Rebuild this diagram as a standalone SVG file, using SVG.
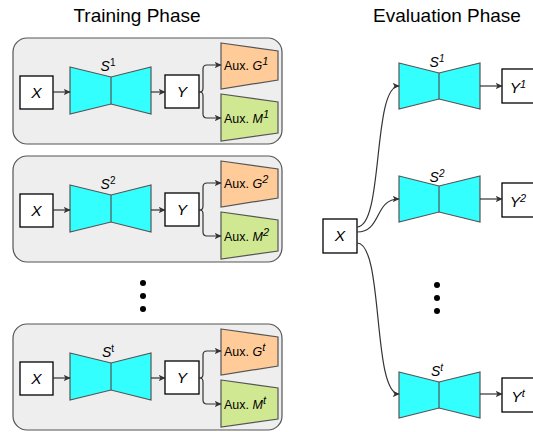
<svg xmlns="http://www.w3.org/2000/svg" width="533" height="432" viewBox="0 0 533 432">
<style>
text{font-family:"Liberation Sans",Arial,sans-serif;fill:#000}
.title{font-size:19px;text-anchor:middle}
.panel{fill:#eeeeee;stroke:#555;stroke-width:1.2}
.box{fill:#fff;stroke:#000;stroke-width:1.3}
.bow{fill:#33ffff;stroke:#555;stroke-width:1.2}
.gshape{fill:#ffcc99;stroke:#555;stroke-width:1.2}
.mshape{fill:#d1e892;stroke:#555;stroke-width:1.2}
.lbl{font-size:15.5px;font-style:italic;text-anchor:middle}
.slbl{font-size:14px;font-style:italic;text-anchor:middle}
.aux{font-size:12.5px}
.sup{font-size:11px}
.ssup{font-size:10px}
.edge{fill:none;stroke:#333;stroke-width:1.2;marker-end:url(#arr)}
.dot{fill:#000}
</style>
<defs>
<marker id="arr" viewBox="0 0 10 10" refX="9" refY="5" markerWidth="7" markerHeight="7" markerUnits="userSpaceOnUse" orient="auto">
<path d="M0,0.5 L10,5 L0,9.5 L2.5,5 Z" fill="#333"/>
</marker>
<g id="bowL">
<path class="bow" d="M70,67 L111,77 L151,67 L151,114 L111,104 L70,114 Z"/>
<line x1="111" y1="77" x2="111" y2="104" stroke="#555" stroke-width="1.2"/>
</g>
</defs>

<text class="title" x="137" y="22">Training Phase</text>
<text class="title" x="447" y="22">Evaluation Phase</text>

<!-- Training panel 1 -->
<g id="panel1">
<rect class="panel" x="13" y="38" width="269" height="106" rx="14"/>
<g id="p1-x"><rect class="box" x="20" y="76" width="33" height="33"/><text class="lbl" x="36.5" y="98">X</text></g>
<g id="p1-s"><use href="#bowL"/><text class="slbl" x="108" y="71">S<tspan class="ssup" dy="-5" font-style="normal">1</tspan></text></g>
<g id="p1-y"><rect class="box" x="165" y="75" width="34" height="33"/><text class="lbl" x="182" y="97">Y</text></g>
<g id="p1-g"><path class="gshape" d="M221,43 L278,51 L278,80 L221,89 Z"/><text class="aux" x="224" y="70">Aux. <tspan font-style="italic">G</tspan><tspan class="sup" font-style="italic" dy="-5">1</tspan></text></g>
<g id="p1-m"><path class="mshape" d="M221,94 L278,102 L278,133 L221,141 Z"/><text class="aux" x="224" y="123">Aux. <tspan font-style="italic">M</tspan><tspan class="sup" font-style="italic" dy="-5">1</tspan></text></g>
</g>

<!-- Training panel 2 -->
<g id="panel2" transform="translate(0,118)">
<rect class="panel" x="13" y="38" width="269" height="106" rx="14"/>
<g id="p2-x"><rect class="box" x="20" y="76" width="33" height="33"/><text class="lbl" x="36.5" y="98">X</text></g>
<g id="p2-s"><use href="#bowL"/><text class="slbl" x="108" y="71">S<tspan class="ssup" dy="-5" font-style="normal">2</tspan></text></g>
<g id="p2-y"><rect class="box" x="165" y="75" width="34" height="33"/><text class="lbl" x="182" y="97">Y</text></g>
<g id="p2-g"><path class="gshape" d="M221,43 L278,51 L278,80 L221,89 Z"/><text class="aux" x="224" y="70">Aux. <tspan font-style="italic">G</tspan><tspan class="sup" font-style="italic" dy="-5">2</tspan></text></g>
<g id="p2-m"><path class="mshape" d="M221,94 L278,102 L278,133 L221,141 Z"/><text class="aux" x="224" y="123">Aux. <tspan font-style="italic">M</tspan><tspan class="sup" font-style="italic" dy="-5">2</tspan></text></g>
</g>

<!-- Training panel t -->
<g id="panel3" transform="translate(0,286)">
<rect class="panel" x="13" y="38" width="269" height="106" rx="14"/>
<g id="p3-x"><rect class="box" x="20" y="76" width="33" height="33"/><text class="lbl" x="36.5" y="98">X</text></g>
<g id="p3-s"><use href="#bowL"/><text class="slbl" x="108" y="71">S<tspan class="ssup" dy="-5" font-style="normal">t</tspan></text></g>
<g id="p3-y"><rect class="box" x="165" y="75" width="34" height="33"/><text class="lbl" x="182" y="97">Y</text></g>
<g id="p3-g"><path class="gshape" d="M221,43 L278,51 L278,80 L221,89 Z"/><text class="aux" x="224" y="70">Aux. <tspan font-style="italic">G</tspan><tspan class="sup" font-style="italic" dy="-5">t</tspan></text></g>
<g id="p3-m"><path class="mshape" d="M221,94 L278,102 L278,133 L221,141 Z"/><text class="aux" x="224" y="123">Aux. <tspan font-style="italic">M</tspan><tspan class="sup" font-style="italic" dy="-5">t</tspan></text></g>
</g>

<!-- ellipsis dots -->
<g id="dots-left"><circle class="dot" cx="143" cy="283" r="3"/><circle class="dot" cx="143" cy="296" r="3"/><circle class="dot" cx="143" cy="309" r="3"/></g>
<g id="dots-right"><circle class="dot" cx="437" cy="285" r="3"/><circle class="dot" cx="437" cy="298" r="3"/><circle class="dot" cx="437" cy="311" r="3"/></g>

<!-- Evaluation nodes -->
<g id="e-x"><rect class="box" x="323" y="219" width="34" height="34"/><text class="lbl" x="340" y="241">X</text></g>
<g id="e-s1"><path class="bow" d="M399,63 L439,73 L480,63 L480,109 L439,99 L399,109 Z"/><line x1="439" y1="73" x2="439" y2="99" stroke="#555" stroke-width="1.2"/><text class="slbl" x="437" y="67">S<tspan class="ssup" dy="-5">1</tspan></text></g>
<g id="e-s2"><path class="bow" d="M399,176 L439,186 L480,176 L480,222 L439,212 L399,222 Z"/><line x1="439" y1="186" x2="439" y2="212" stroke="#555" stroke-width="1.2"/><text class="slbl" x="437" y="182">S<tspan class="ssup" dy="-5">2</tspan></text></g>
<g id="e-st"><path class="bow" d="M399,372 L439,382 L480,372 L480,418 L439,408 L399,418 Z"/><line x1="439" y1="382" x2="439" y2="408" stroke="#555" stroke-width="1.2"/><text class="slbl" x="437" y="376">S<tspan class="ssup" dy="-5">t</tspan></text></g>
<g id="e-y1"><rect class="box" x="502" y="69" width="34" height="34"/><text class="lbl" x="518" y="93">Y<tspan class="sup" dy="-5">1</tspan></text></g>
<g id="e-y2"><rect class="box" x="502" y="183" width="34" height="34"/><text class="lbl" x="518" y="207">Y<tspan class="sup" dy="-5">2</tspan></text></g>
<g id="e-yt"><rect class="box" x="502" y="378" width="34" height="34"/><text class="lbl" x="518" y="402">Y<tspan class="sup" dy="-5">t</tspan></text></g>

<!-- connectors -->
<g id="connectors">
<path class="edge" d="M53,92 L70,92"/>
<path class="edge" d="M151,92 L165,92"/>
<path class="edge" d="M199,92 L200,92 Q203,92 203,88 L203,69 Q203,65 207,65 L221,65"/>
<path class="edge" d="M199,92 L200,92 Q203,92 203,96 L203,114 Q203,118 207,118 L221,118"/>
<path class="edge" d="M53,210 L70,210"/>
<path class="edge" d="M151,210 L165,210"/>
<path class="edge" d="M199,210 L200,210 Q203,210 203,206 L203,187 Q203,183 207,183 L221,183"/>
<path class="edge" d="M199,210 L200,210 Q203,210 203,214 L203,232 Q203,236 207,236 L221,236"/>
<path class="edge" d="M53,378 L70,378"/>
<path class="edge" d="M151,378 L165,378"/>
<path class="edge" d="M199,378 L200,378 Q203,378 203,374 L203,355 Q203,351 207,351 L221,351"/>
<path class="edge" d="M199,378 L200,378 Q203,378 203,382 L203,400 Q203,404 207,404 L221,404"/>
<path class="edge" d="M357,227 C384,227 372,86 399,86"/>
<path class="edge" d="M357,232 C382,232 374,199 399,199"/>
<path class="edge" d="M357,243 C384,243 372,394 399,394"/>
<path class="edge" d="M480,86 L502,86"/>
<path class="edge" d="M480,199 L502,199"/>
<path class="edge" d="M480,394 L502,394"/>
</g>
</svg>
